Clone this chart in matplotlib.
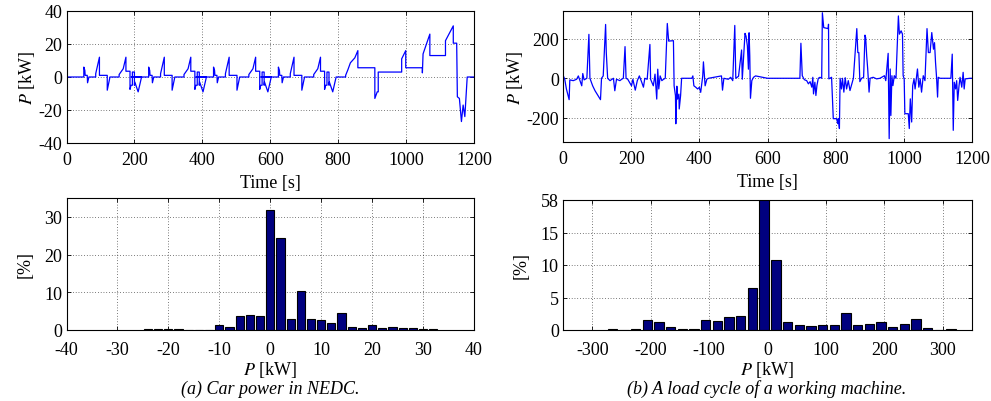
import numpy as np
import matplotlib
matplotlib.use("Agg")
import matplotlib.pyplot as plt

plt.rcParams['font.family'] = ['Liberation Serif', 'DejaVu Serif']
plt.rcParams['mathtext.fontset'] = 'stix'
plt.rcParams['font.size'] = 13
plt.rcParams['axes.unicode_minus'] = False

# --- (a) NEDC car power: one ECE cycle, repeated at the cycle starts
ece_t = [0, 51, 51, 54, 55, 61, 62, 66, 86, 86, 97, 97, 120, 120, 128, 155, 155, 167, 175,
         175, 187, 187, 190, 194, 194, 200, 200, 201, 211, 221]
ece_p = [0, 0, 6, 4, 1, 1, -3.5, 0, 0, 2, 12, 1, 1, -8, 0, 0, 1.5, 5, 12,
         3.5, 3.5, -7.5, -5, -5, 3, 3, -5, -3, -9, 0]
ece_starts = [0, 191, 382, 573]

eudc_t = [822, 822, 829, 836, 849, 858, 858, 908, 908, 915, 918, 918, 987, 987, 999, 999,
          1048, 1048, 1050, 1070, 1070, 1116, 1116, 1139, 1139, 1149, 1151, 1157, 1163,
          1168, 1173, 1177, 1180, 1200]
eudc_p = [0, 1, 4.6, 8.6, 11.6, 16, 5.6, 5.6, -13, -9, -9, 3, 3, 11, 16, 5.6,
          5.6, 2.5, 14, 26, 13, 13, 22, 31, 20.5, 20.5, -12, -13, -27,
          -17, -24, -10, 0, 0]

# --- (b) working machine load cycle
wm_t = [0, 1, 5, 10, 18, 20, 30, 40, 45, 52, 55, 58, 62, 70, 76, 79, 87, 94, 103, 110, 113, 118,
        125, 127, 131, 138, 148, 152, 157, 167, 172, 177, 182, 185, 190, 201, 205, 212, 218, 224,
        231, 236, 240, 247, 255, 257, 265, 270, 275, 278, 281, 285, 290, 295, 300, 306, 310, 324,
        326, 330, 331, 334, 336, 340, 341, 345, 348, 378, 381, 384, 390, 395, 400, 404, 410, 412,
        417, 422, 427, 465, 468, 472, 485, 492, 498, 504, 507, 515, 524, 526, 534, 537, 541, 544,
        546, 548, 550, 554, 559, 565, 600, 695, 698, 702, 708, 715, 720, 725, 730, 733, 735, 739,
        742, 745, 749, 754, 759, 761, 765, 778, 779, 780, 788, 793, 803, 806, 808, 811, 813, 817,
        820, 824, 828, 832, 837, 842, 852, 862, 865, 868, 871, 876, 882, 886, 888, 891, 894, 898,
        901, 910, 920, 930, 943, 947, 954, 957, 960, 962, 965, 968, 972, 977, 984, 987, 992, 996,
        998, 1001, 1003, 1013, 1016, 1019, 1023, 1026, 1030, 1033, 1037, 1040, 1044, 1048, 1052,
        1057, 1062, 1068, 1072, 1077, 1082, 1087, 1090, 1093, 1096, 1099, 1101, 1106, 1120, 1138,
        1142, 1145, 1148, 1152, 1155, 1158, 1162, 1165, 1170, 1174, 1177, 1180, 1194, 1200]
wm_p = [15, 12, -4, -54, -108, -8, -12, -5, 12, -24, -38, 24, -8, 0, 222, 0, -38, -63, -88, -108,
        0, 12, 272, 130, 0, -12, 0, -63, -5, -12, -5, 0, 160, 0, -5, -38, -5, -60, -12, 12,
        -20, -45, 0, -5, 171, -5, -38, 21, -105, 46, -54, 12, -12, -5, 0, 277, 188, 190,
        -38, -88, -230, -40, -105, -80, -155, -88, 0, 0, 12, -38, -46, -54, -46, -71, 12, 83,
        -38, -5, 0, 12, -60, 0, -5, 5, -12, 267, 0, 10, 143, -5, 227, 213, 163, 46,
        230, 113, -101, -12, 5, 12, 0, 0, 177, 13, -7, -12, -28, -17, -45, 5, -79, -20,
        -87, -37, 0, 5, 0, 331, 256, 251, 273, -3, 5, -204, -204, -229, -204, -254, 0, -54,
        0, -70, 3, -54, -12, -62, 0, 251, 130, 130, -17, 0, 5, 218, 206, 114, 47, -70,
        0, 5, -3, 0, 13, -12, 126, -305, 47, -188, 13, -37, 13, 0, 315, 223, 240, 223,
        13, -3, -179, -179, -254, -104, -221, -37, -3, -54, 5, 47, -45, -3, -70, 13, -12,
        251, 130, 130, 231, 147, 180, 80, 5, -95, 5, 0, 0, 0, 122, -263, -20, -54, -12,
        -112, -37, 5, -45, 30, -54, -3, 0, 0]

# --- histograms
hist_a_kw = [-24, -22, -20, -18, -16, -14, -12, -10, -8, -6, -4, -2, 0, 2, 4, 6, 8, 10, 12, 14,
             16, 18, 20, 22, 24, 26, 28, 30, 32]
hist_a_pct = [0.15, 0.25, 0.15, 0.15, 0.05, 0.05, 0.1, 1.3, 0.8, 3.6, 3.9, 3.6, 31.7, 24.3, 2.9,
              10.4, 2.9, 2.6, 1.9, 4.6, 0.8, 0.4, 1.3, 0.5, 0.7, 0.5, 0.4, 0.35, 0.15]

hist_b_kw = [-265.7, -245.7, -225.7, -205.7, -185.7, -165.7, -145.7, -125.7, -105.7, -85.7,
             -65.7, -45.7, -25.7, -5.7, 14.3, 34.3, 54.3, 74.3, 94.3, 114.3, 134.3, 154.3,
             174.3, 194.3, 214.3, 234.3, 254.3, 274.3, 294.3, 314.3]
hist_b_pct = [0.1, 0.05, 0.2, 1.6, 1.3, 0.4, 0.15, 0.1, 1.5, 1.4, 2.0, 2.2, 6.4, 58, 10.7, 1.2,
              0.8, 0.6, 0.8, 0.7, 2.6, 0.7, 0.9, 1.3, 0.5, 0.9, 1.7, 0.3, 0.0, 0.1]
hist_b_ticks = [0, 5, 10, 15, 20]
hist_b_ticklabels = ['0', '5', '10', '15', '58']

# build the NEDC trace
nedc_t, nedc_p = [], []
for s in ece_starts:
    nedc_t += [s + t for t in ece_t]
    nedc_p += ece_p
nedc_t += eudc_t
nedc_p += eudc_p

W, H = 991, 402
fig = plt.figure(figsize=(W / 100, H / 100), dpi=100)


def box(x0, y0, x1, y1):
    return [x0 / W, 1 - y1 / H, (x1 - x0) / W, (y1 - y0) / H]


ax1 = fig.add_axes(box(66.5, 12, 474, 144))
ax2 = fig.add_axes(box(563, 12, 972, 143))
ax3 = fig.add_axes(box(66.5, 199, 474, 331))
ax4 = fig.add_axes(box(563, 201, 972, 331))

ax1.plot(nedc_t, nedc_p, color='#0000ff', lw=0.9)
ax1.set_xlim(0, 1200)
ax1.set_ylim(-40, 40)
ax1.set_xticks(range(0, 1201, 200))
ax1.set_yticks([-40, -20, 0, 20, 40])
ax1.set_ylabel('$P$ [kW]', labelpad=1)

ax2.plot(wm_t, wm_p, color='#0000ff', lw=0.9)
ax2.set_xlim(0, 1200)
ax2.set_ylim(-322, 340)
ax2.set_xticks(range(0, 1201, 200))
ax2.set_yticks([-200, 0, 200])
ax2.set_ylabel('$P$ [kW]', labelpad=1)

ax3.bar(hist_a_kw, hist_a_pct, width=1.6, color='#00007f', edgecolor='black', lw=0.8)
ax3.set_xlim(-40, 40)
ax3.set_ylim(0, 35)
ax3.set_xticks(range(-40, 41, 10))
ax3.set_yticks([0, 10, 20, 30])
ax3.set_ylabel('[%]', labelpad=8)

ax4.bar(hist_b_kw, hist_b_pct, width=16, color='#00007f', edgecolor='black', lw=0.8)
ax4.set_xlim(-350, 350)
ax4.set_ylim(0, 20)
ax4.set_xticks(range(-300, 301, 100))
ax4.set_yticks(hist_b_ticks)
ax4.set_yticklabels(hist_b_ticklabels)
ax4.set_ylabel('[%]', labelpad=8)

for ax in (ax1, ax2, ax3, ax4):
    ax.grid(True, color='black', linestyle=(0, (1, 3)), lw=0.5)
    ax.set_axisbelow(True)
    ax.tick_params(direction='in', top=True, right=True, length=3, width=0.6,
                   labelsize=13)
    ax.tick_params(axis='y', pad=3)
    for sp in ax.spines.values():
        sp.set_linewidth(0.8)

for ax in (ax1, ax2):
    ax.tick_params(axis='x', pad=6)
    ax.set_xlabel('Time [s]', labelpad=4)
for ax in (ax3, ax4):
    ax.tick_params(axis='x', pad=8)
    ax.set_xlabel('$P$ [kW]', labelpad=1)

fig.text(270 / W, 1 - 389 / H, '(a) Car power in NEDC.', ha='center', va='center',
         style='italic', fontsize=13)
fig.text(767 / W, 1 - 389 / H, '(b) A load cycle of a working machine.', ha='center',
         va='center', style='italic', fontsize=13)

fig.savefig('out.png', dpi=100)
